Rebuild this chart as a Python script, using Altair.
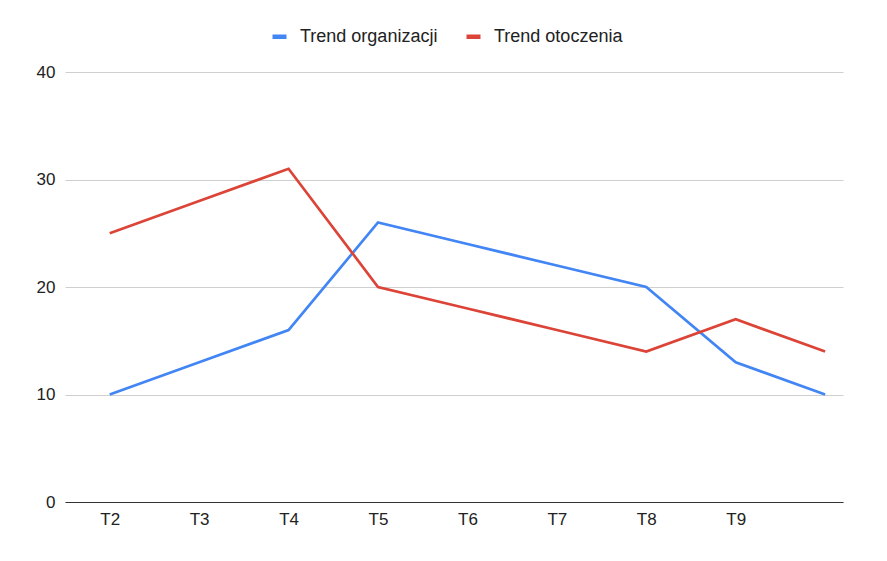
import altair as alt
import pandas as pd

categories = ["T2", "T3", "T4", "T5", "T6", "T7", "T8", "T9", ""]
org = [10, 13, 16, 26, 24, 22, 20, 13, 10]
oto = [25, 28, 31, 20, 18, 16, 14, 17, 14]
series_names = ["Trend organizacji", "Trend otoczenia"]
colors = ["#4285F4", "#DB4437"]

rows = []
for name, vals in zip(series_names, [org, oto]):
    for i, (c, v) in enumerate(zip(categories, vals)):
        rows.append({"idx": i, "cat": c, "value": v, "series": name})
df = pd.DataFrame(rows)

label_arr = "[" + ",".join("'" + c + "'" for c in categories) + "]"

chart = alt.Chart(df).mark_line(strokeWidth=2.7).encode(
    x=alt.X("idx:Q",
            scale=alt.Scale(domain=[-0.5, 8.2], nice=False, zero=False),
            axis=alt.Axis(values=list(range(8)), labelExpr=label_arr + "[datum.value]",
                          title=None, grid=False, ticks=False, domain=True,
                          domainColor="#333333", domainWidth=1, labelPadding=9,
                          labelFontSize=17, labelColor="#222222", labelFont="Liberation Sans")),
    y=alt.Y("value:Q",
            scale=alt.Scale(domain=[0, 40], nice=False),
            axis=alt.Axis(values=[0, 10, 20, 30, 40], title=None, domain=False, ticks=False,
                          gridColor="#cfcfcf", labelPadding=10, labelFontSize=17,
                          labelColor="#222222", labelFont="Liberation Sans")),
    color=alt.Color("series:N",
                    scale=alt.Scale(domain=series_names, range=colors),
                    legend=alt.Legend(title=None, orient="none", direction="horizontal",
                                      legendX=205, legendY=-45, symbolType="stroke",
                                      symbolSize=196, symbolStrokeWidth=4.5,
                                      labelFontSize=18, labelColor="#222222",
                                      labelFont="Liberation Sans", labelOffset=11,
                                      columnPadding=19)),
    detail="series:N",
).properties(
    width=778, height=430,
    padding={"left": 57, "top": 64, "right": 30, "bottom": 45},
    autosize=alt.AutoSizeParams(type="none"),
).configure_view(stroke=None)

chart.save("out.html", embed_options={"renderer": "svg", "actions": False})
